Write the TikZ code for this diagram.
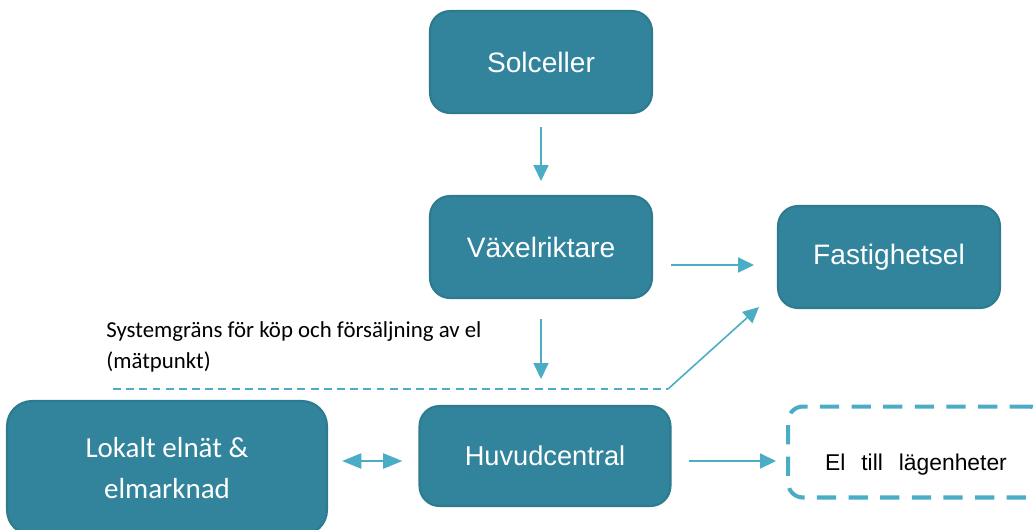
\documentclass[tikz,border=0pt]{standalone}
\usepackage{fontspec}
\setmainfont{Liberation Sans}
\newfontfamily\calibri{Carlito}
\usetikzlibrary{positioning,calc,arrows.meta}

\definecolor{boxfill}{HTML}{31849B}
\definecolor{boxline}{HTML}{2E7A8E}
\definecolor{pil}{HTML}{4BACC6}

\tikzset{
	box/.style={draw=boxline, fill=boxfill, line width=1.2pt, rounded corners=0.4cm, text=white, align=center, font=\fontsize{16}{19}\selectfont, minimum width=4.44cm, minimum height=2.04cm},
	pilen/.style={draw=pil, line width=0.9pt, -{Triangle[length=9pt,width=8.5pt]}},
	dubbelpil/.style={draw=pil, line width=1.5pt, {Triangle[length=11pt,width=8.5pt]}-{Triangle[length=11pt,width=8.5pt]}},
	grans/.style={draw=pil, line width=0.8pt, dash pattern=on 4.5pt off 3pt},
	streckbox/.style={draw=pil, line width=2.3pt, dash pattern=on 11pt off 7pt, rounded corners=0.3cm, minimum width=5.12cm, minimum height=1.82cm, font=\fontsize{13}{15}\selectfont}
}

\begin{document}
\begin{tikzpicture}[x=0.02cm, y=-0.02cm]
		\useasboundingbox (0,0) rectangle (1035,529);
		% boxes
		\node[box] (sol) at (541,62) {Solceller};
		\node[box] (vax) at (541,247) {Växelriktare};
		\node[box] (fast) at (889,257) {Fastighetsel};
		\node[box, minimum width=5.02cm, minimum height=2cm, font=\fontsize{15.5}{18}\selectfont] (huvud) at (545,456) {Huvudcentral};
		\node[box, minimum width=6.4cm, minimum height=2.68cm, rounded corners=0.5cm, font=\calibri\fontsize{16.5}{23}\selectfont] (lokalt) at (167,468) {Lokalt elnät \&\\elmarknad};
		\node[streckbox] (lgh) at (916,452) {\raisebox{-10.3pt}[0pt][0pt]{\spaceskip=0.7em El till lägenheter}};
		% systemgrans
		\node[anchor=west, inner sep=0pt, align=left, font=\calibri\fontsize{13}{18}\selectfont] (granstext) at (106,347) {Systemgräns för köp och försäljning av el\\(mätpunkt)};
		\coordinate (gv) at (113,389);
		\coordinate (gh) at (668,389);
		\draw[grans] (gv) -- (gh);
		% pilar
		\draw[pilen, shorten <=0.26cm, shorten >=0.28cm] (sol) -- (vax);
		\draw[pilen, shorten <=0.36cm, shorten >=0.46cm] ([yshift=-0.36cm]vax.east) -- ([yshift=-0.36cm]vax.east -| fast.west);
		\draw[pilen, shorten <=0.4cm, shorten >=0.52cm] (vax.south) -- (vax.south |- huvud.north);
		\draw[pilen] (gh) -- ([xshift=-0.36cm,yshift=0.04cm]fast.south west);
		\draw[dubbelpil, shorten <=0.28cm, shorten >=0.32cm] ([yshift=-0.1cm]huvud.west -| lokalt.east) -- ([yshift=-0.1cm]huvud.west);
		\draw[pilen, shorten <=0.34cm, shorten >=0.2cm] ([yshift=-0.1cm]huvud.east) -- ([yshift=-0.1cm]huvud.east -| lgh.west);
	\end{tikzpicture}
\end{document}
